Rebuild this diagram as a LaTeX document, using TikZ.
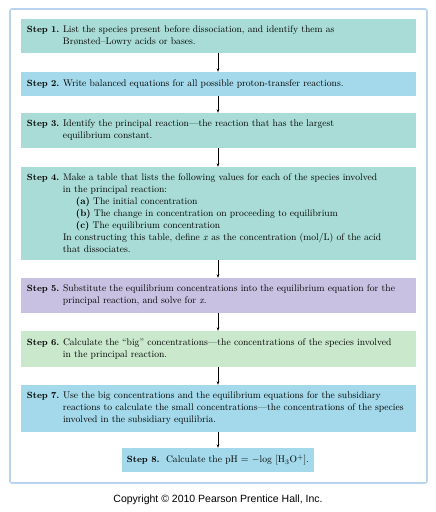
\documentclass[tikz,border=0pt]{standalone}
\usepackage{fontspec}
\newfontfamily\copyfont{Liberation Sans}
\usetikzlibrary{arrows.meta}
\definecolor{teal1}{HTML}{A9DCD6}
\definecolor{blue1}{HTML}{A3D9EA}
\definecolor{lav1}{HTML}{C9C1E1}
\definecolor{green1}{HTML}{C9E8CC}
\definecolor{frame1}{HTML}{B9D4EF}
\newcommand{\stp}[2]{\makebox[36pt][l]{\fontsize{9}{12}\selectfont\textbf{Step #1.}}\parbox[t]{347pt}{\raggedright #2}}
\tikzset{
  stepbox/.style={minimum width=395pt, text width=383pt, inner xsep=6pt, inner ysep=0pt, align=left, font=\fontsize{9.6}{12}\selectfont, anchor=center},
  flow/.style={line width=0.6pt, -{Stealth[length=3.5pt,width=2.6pt]}}
}
\begin{document}
\begin{tikzpicture}[x=1pt,y=-1pt]
\useasboundingbox (0,0) rectangle (436,512);
\draw[frame1, line width=1.6pt, rounded corners=2pt] (10,9) rectangle (427,483);
\node[stepbox, fill=teal1, minimum height=34pt] (s1) at (218.5,36) {\stp{1}{List the species present before dissociation, and identify them as\\ Br\o nsted--Lowry acids or bases.}};
\node[stepbox, fill=blue1, minimum height=24pt] (s2) at (218.5,84) {\stp{2}{Write balanced equations for all possible proton-transfer reactions.}};
\node[stepbox, fill=teal1, minimum height=35pt] (s3) at (218.5,130.5) {\stp{3}{Identify the principal reaction---the reaction that has the largest\\ equilibrium constant.}};
\node[stepbox, fill=teal1, minimum height=93pt] (s4) at (218.5,213.5) {\stp{4}{Make a table that lists the following values for each of the species involved\\ in the principal reaction:\\
\hspace*{13pt}\textbf{(a)} The initial concentration\\
\hspace*{13pt}\textbf{(b)} The change in concentration on proceeding to equilibrium\\
\hspace*{13pt}\textbf{(c)} The equilibrium concentration\\
In constructing this table, define \emph{x} as the concentration (mol/L) of the acid\\ that dissociates.}};
\node[stepbox, fill=lav1, minimum height=35pt] (s5) at (218.5,295.5) {\stp{5}{Substitute the equilibrium concentrations into the equilibrium equation for the\\ principal reaction, and solve for \emph{x}.}};
\node[stepbox, fill=green1, minimum height=36pt] (s6) at (218.5,349) {\stp{6}{Calculate the ``big'' concentrations---the concentrations of the species involved\\ in the principal reaction.}};
\node[stepbox, fill=blue1, minimum height=47pt] (s7) at (218.5,408.5) {\stp{7}{Use the big concentrations and the equilibrium equations for the subsidiary\\ reactions to calculate the small concentrations---the concentrations of the species\\ involved in the subsidiary equilibria.}};
\node[fill=blue1, minimum width=192pt, minimum height=24pt, inner sep=0pt, font=\fontsize{9.6}{12}\selectfont] (s8) at (218,460) {{\fontsize{9}{12}\selectfont\textbf{Step 8.}}\ \ Calculate the pH $=$ $-$log [H$_3$O$^+$].};
\foreach \a/\b in {s1/s2,s2/s3,s3/s4,s4/s5,s5/s6,s6/s7}
  \draw[flow] (\a.south -| 218,0) -- (\b.north -| 218,0);
\draw[flow] (s7.south -| s8.north) -- (s8.north);
\node[font=\copyfont\fontsize{10.5}{12}\selectfont] (copy) at (218,500) {Copyright \textcopyright\ 2010 Pearson Prentice Hall, Inc.};
\end{tikzpicture}
\end{document}
